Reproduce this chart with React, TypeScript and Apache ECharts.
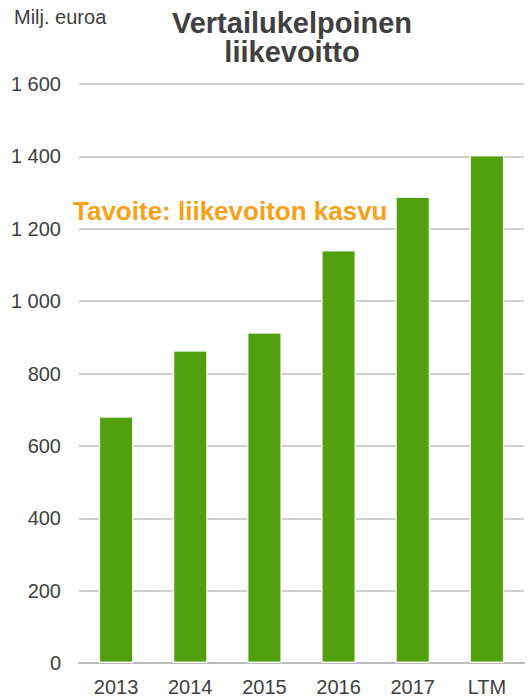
import React, { useEffect, useRef } from "react";
import * as echarts from "echarts";

const categories = ["2013", "2014", "2015", "2016", "2017", "LTM"];
const values = [682, 864, 914, 1141, 1289, 1404];
const titleLines = ["Vertailukelpoinen", "liikevoitto"];
const unitLabel = "Milj. euroa";
const targetText = "Tavoite: liikevoiton kasvu";

const fmt = (v: number) => {
  const s = String(Math.round(v));
  return s.replace(/\B(?=(\d{3})+(?!\d))/g, " ");
};

export default function App() {
  const ref = useRef<HTMLDivElement>(null);
  useEffect(() => {
    if (!ref.current) return;
    const chart = echarts.init(ref.current, undefined, { renderer: "svg" });
    const font = "'Liberation Sans', Arial, sans-serif";
    chart.setOption({
      animation: false,
      textStyle: { fontFamily: font },
      grid: { left: 79, right: 4, top: 84, bottom: 35, containLabel: false },
      xAxis: {
        type: "category",
        data: categories,
        axisLine: { show: true, lineStyle: { color: "#bcbcbc", width: 2 } },
        axisTick: { show: false },
        axisLabel: { color: "#404040", fontSize: 20, margin: 14, fontFamily: font },
      },
      yAxis: {
        type: "value",
        min: 0,
        max: 1600,
        interval: 200,
        axisLine: { show: false },
        axisTick: { show: false },
        splitLine: { lineStyle: { color: "#bfbfbf", width: 1.5 } },
        axisLabel: {
          color: "#404040",
          fontSize: 20,
          margin: 18,
          fontFamily: font,
          formatter: (v: number) => fmt(v),
        },
      },
      series: [
        {
          type: "bar",
          data: values,
          barWidth: "47%",
          itemStyle: {
            color: "#52A00E",
            borderColor: "rgba(255,255,255,0.85)",
            borderWidth: 1.5,
          },
          z: 3,
        },
      ],
      graphic: [
        {
          type: "text",
          x: 14,
          y: 17,
          style: {
            text: unitLabel,
            fontFamily: font,
            fontSize: 20,
            fill: "#404040",
            verticalAlign: "middle",
          },
        },
        {
          type: "text",
          x: 292,
          y: 23,
          style: {
            text: titleLines[0],
            fontFamily: font,
            fontSize: 29,
            fontWeight: "bold",
            fill: "#404040",
            align: "center",
            verticalAlign: "middle",
          },
        },
        {
          type: "text",
          x: 292,
          y: 52,
          style: {
            text: titleLines[1],
            fontFamily: font,
            fontSize: 29,
            fontWeight: "bold",
            fill: "#404040",
            align: "center",
            verticalAlign: "middle",
          },
        },
        {
          type: "text",
          x: 73,
          y: 211,
          z: 10,
          style: {
            text: targetText,
            fontFamily: font,
            fontSize: 26,
            fontWeight: "bold",
            fill: "#F7A11A",
            verticalAlign: "middle",
          },
        },
      ],
    });
    return () => chart.dispose();
  }, []);
  return <div ref={ref} style={{ width: 528, height: 698, position: "absolute", left: 0, top: 0 }} />;
}
